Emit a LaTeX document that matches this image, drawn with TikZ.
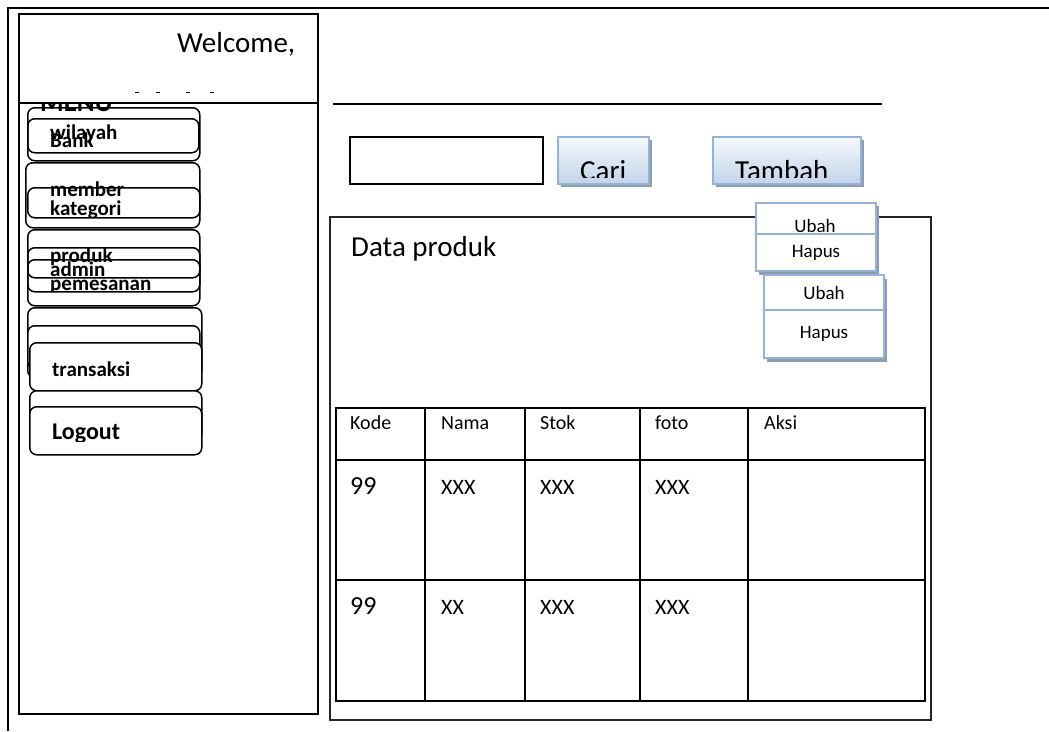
\documentclass[tikz,border=0pt]{standalone}
\usepackage{fontspec}
\setmainfont{Carlito}
\usetikzlibrary{positioning}
\definecolor{btnborder}{HTML}{95B3D7}
\definecolor{btntop}{HTML}{F5F8FC}
\definecolor{btnbot}{HTML}{C2D4EA}
\definecolor{btnshadow}{HTML}{8E9CB2}
\tikzset{
    menubox/.style={draw, line width=1.5pt, rounded corners=7pt, anchor=north west, inner sep=0pt},
    menutxt/.style={font=\fontsize{21}{21}\selectfont\bfseries, anchor=base west, inner sep=0pt}
}

\begin{document}
\begin{tikzpicture}[x=1pt, y=-1pt,
    frame/.style={draw, line width=1.8pt},
    button/.style={draw=btnborder, line width=2pt, top color=btntop, bottom color=btnbot,
                   anchor=north west, inner sep=0pt, minimum height=47},
    btnshade/.style={fill=btnshadow, anchor=north west, inner sep=0pt, minimum height=47},
    btntxt/.style={font=\fontsize{29}{29}\selectfont, anchor=base west, inner sep=0pt},
    actbox/.style={draw=btnborder, line width=2pt, fill=white, anchor=north west, inner sep=0pt,
                   minimum width=120, font=\fontsize{19}{19}\selectfont},
    cell/.style={anchor=base west, inner sep=0pt, font=\fontsize{20}{20}\selectfont},
    bigcell/.style={anchor=base west, inner sep=0pt, font=\fontsize{22}{22}\selectfont}
]
\useasboundingbox (0,0) rectangle (1049,731);

% outer page frame
\draw[frame] (8,731) -- (8,8) -- (1049,8);

% left panel with header
\node[frame, line width=2pt, anchor=north west, inner sep=0pt,
      minimum width=299, minimum height=700] (leftpanel) at (18,13) {};
\node[anchor=base west, inner sep=0pt, font=\fontsize{29}{29}\selectfont] (welcome) at (177,52) {Welcome,};
\foreach \x in {137,158,188,212}
    \fill (\x-2,91.5) rectangle (\x+2,93.2);

% menu stacks
\node[menubox, minimum width=172, minimum height=53] (bankbox) at (27,107) {};
\node[menubox, minimum width=171, minimum height=34] (wilbox) at (27,118) {};
\node[menubox, minimum width=174, minimum height=65] (memberbox) at (25,162) {};
\node[menubox, minimum width=172, minimum height=30] (katbox) at (27,187) {};
\node[menubox, minimum width=172, minimum height=76] (prodbox) at (27,229) {};
\node[menubox, minimum width=172, minimum height=30] (prodin) at (27,247) {};
\node[menubox, minimum width=172, minimum height=32] (adminbox) at (27,259) {};
\node[menubox, fill=white, minimum width=174, minimum height=70] (transout) at (27,307) {};
\node[menubox, fill=white, minimum width=172, minimum height=43] (transmid) at (27,325) {};
\node[menubox, fill=white, minimum width=172, minimum height=48] (transbox) at (29,342) {};
\node[menubox, fill=white, minimum width=172, minimum height=50] (logoutout) at (29,390) {};
\node[menubox, fill=white, minimum width=172, minimum height=48] (logoutbox) at (29,406) {};

% menu labels (some cut by their boxes)
\begin{scope}
    \clip (20,103) rectangle (317,160);
    \node[menutxt, font=\fontsize{27}{27}\selectfont\bfseries] (menu) at (40,111) {MENU};
\end{scope}
\draw[line width=1.5pt] (leftpanel.west |- 0,103) -- (leftpanel.east |- 0,103);
\begin{scope}
    \clip (20,120) rectangle (200,149);
    \node[menutxt] (bank) at (50,147) {Bank};
\end{scope}
\node[menutxt] (wilayah) at (50,139) {wilayah};
\node[menutxt] (member) at (50,196) {member};
\begin{scope}
    \clip (20,190) rectangle (200,216);
    \node[menutxt] (kategori) at (50,215) {kategori};
\end{scope}
\node[menutxt] (produk) at (50,262) {produk};
\node[menutxt] (admin) at (50,276) {admin};
\begin{scope}
    \clip (20,270) rectangle (200,291);
    \node[menutxt] (pemesanan) at (50,290) {pemesanan};
\end{scope}
\node[menutxt] (transaksi) at (52,376) {transaksi};
\begin{scope}
    \clip (20,410) rectangle (200,441);
    \node[menutxt, font=\fontsize{24}{24}\selectfont\bfseries] (logout) at (52,439) {Logout};
\end{scope}

% top line and search bar
\draw[line width=2.5pt] (333,104) coordinate (lineL) -- (882,104) coordinate (lineR);
\node[draw, line width=1.6pt, anchor=north west, inner sep=0pt,
      minimum width=193, minimum height=47] (search) at (349,136) {};
\node[btnshade, minimum width=91] (carishade) at (561,140) {};
\node[button, minimum width=91] (cari) at (557,136) {};
\node[btnshade, minimum width=148] (tambahshade) at (716,140) {};
\node[button, minimum width=148] (tambah) at (712,136) {};
\begin{scope}
    \clip (550,136) rectangle (870,177);
    \node[btntxt] (caritxt) at (580,180) {Cari};
    \node[btntxt] (tambahtxt) at (735,180) {Tambah};
\end{scope}

% data panel
\node[frame, line width=2pt, draw=black!85, anchor=north west, inner sep=0pt,
      minimum width=601, minimum height=503] (datapanel) at (329,216) {};
\node[btntxt] (datatitle) at (351,256) {Data produk};

% Ubah / Hapus buttons
\fill[btnshadow] (759,206) rectangle (879,275);
\node[actbox, minimum height=31] (ubah1) at (755,202) {};
\begin{scope}
    \clip (755,202) rectangle (875,232);
    \node[font=\fontsize{19}{19}\selectfont, inner sep=0pt] (ubah1txt) at (815,226) {Ubah};
\end{scope}
\node[actbox, minimum height=37] (hapus1) at (755,233) {Hapus};
\fill[btnshadow] (767,279) rectangle (887,362);
\node[actbox, minimum height=35] (ubah2) at (763,274) {Ubah};
\node[actbox, minimum height=48] (hapus2) at (763,309) {Hapus};

% table
\draw[line width=1.8pt] (336,408) rectangle (925,701);
\foreach \y in {460,580}
    \draw[line width=1.8pt] (336,\y) -- (925,\y);
\foreach \x in {425,525,640,748}
    \draw[line width=1.8pt] (\x,408) -- (\x,701);
\foreach \x/\t in {350/Kode, 441/Nama, 540/Stok, 655/foto, 764/Aksi}
    \node[cell] (head\t) at (\x,429) {\t};
\foreach \y/\r in {494/1, 614/2} {
    \node[bigcell, font=\fontsize{26}{26}\selectfont] (kode\r) at (350,\y) {99};
    \node[bigcell] (stok\r) at (540,\y) {XXX};
    \node[bigcell] (foto\r) at (655,\y) {XXX};
}
\node[bigcell] (nama1) at (441,494) {XXX};
\node[bigcell] (nama2) at (441,614) {XX};

\end{tikzpicture}
\end{document}
